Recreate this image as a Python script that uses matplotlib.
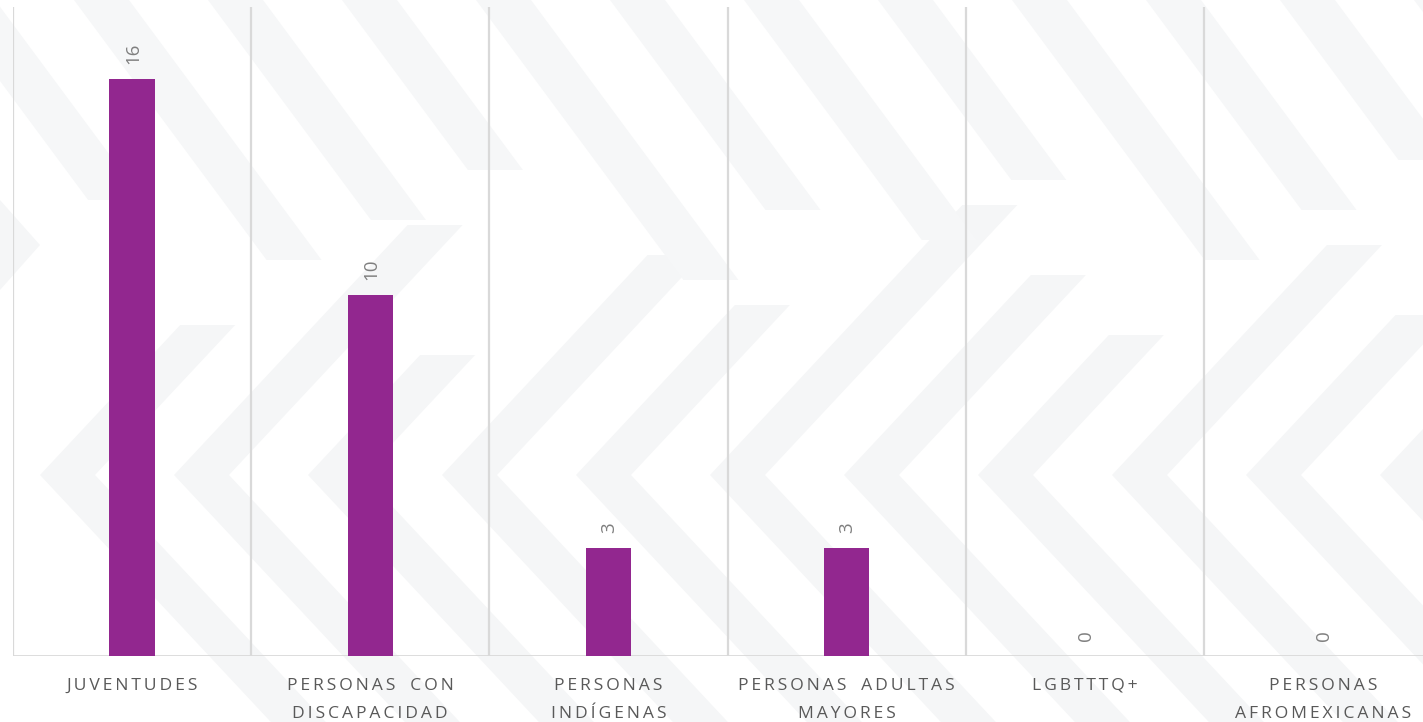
import matplotlib
matplotlib.use("Agg")
import matplotlib.pyplot as plt
from matplotlib.patches import Polygon
import numpy as np

# ---- data ----
categories = ["JUVENTUDES", "PERSONAS CON\nDISCAPACIDAD", "PERSONAS\nINDÍGENAS",
              "PERSONAS ADULTAS\nMAYORES", "LGBTTTQ+", "PERSONAS\nAFROMEXICANAS"]
values = [16, 10, 3, 3, 0, 0]

W, H = 1423, 722
plt.rcParams['font.family'] = ['Open Sans', 'DejaVu Sans']
fig = plt.figure(figsize=(W / 100, H / 100), dpi=100)
fig.patch.set_facecolor('white')

BG = '#f5f6f7'


def px(x, y):
    return (x / W, 1 - y / H)


def band(points, color=BG):
    fig.patches.append(Polygon([px(*p) for p in points], closed=True,
                               transform=fig.transFigure, facecolor=color,
                               edgecolor='none', zorder=0))


# ---- decorative background (chevrons and diagonal stripes) ----
s = 1.07   # dy/dx of arms
w = 55     # horizontal band width
vy = 475
ups = [150, 250, 120, 220, 170, 270, 200, 140, 230, 160, 250, 180]
for k, vx in enumerate(np.arange(40, 1500, 134)):
    u = ups[k % len(ups)]
    d = 300
    band([(vx + u / s, vy - u), (vx, vy), (vx + d / s, vy + d),
          (vx + d / s + w, vy + d), (vx + w, vy), (vx + u / s + w, vy - u)])
# small chevron at far left
band([(-40, 200), (0, 245), (-40, 290), (0, 290), (40, 245), (0, 200)])
# top stripes "\"
tops = [200, 260, 220, 170, 280, 210, 240, 180, 260, 210, 160, 230]
for k, x0 in enumerate(np.arange(-60, 1500, 134)):
    y1 = tops[k % len(tops)]
    band([(x0, 0), (x0 + w, 0), (x0 + w + y1 / 1.35, y1), (x0 + y1 / 1.35, y1)], '#f6f7f8')

# ---- axes ----
ax = fig.add_axes([13 / W, 66 / H, 1429.2 / W, 649 / H])
ax.set_zorder(1)
ax.set_facecolor('none')
x = np.arange(len(categories))
ax.bar(x, values, width=0.19, color='#92278F', zorder=3)
ax.set_xlim(-0.5, len(categories) - 0.5)
ax.set_ylim(0, 18)
for sp in ax.spines.values():
    sp.set_visible(False)
ax.set_xticks([])
ax.set_yticks([])
ax.vlines(np.arange(-0.5, len(categories), 1), 0, 18, color='#d9d9d9', lw=1.6, zorder=2)
ax.axhline(0, color='#d9d9d9', lw=2, zorder=2)

# value labels
for xi, v in zip(x, values):
    ax.annotate(str(v), (xi, v), xytext=(0.7, 11), textcoords='offset points',
                rotation=90, ha='center', va='bottom', fontsize=13.5,
                color='#7f7f7f', zorder=4)


def spaced(t):
    out = []
    for word in t.split(' '):
        out.append('\u2009'.join(word))
    return '\u2009  \u2009'.join(out)


tr = ax.get_xaxis_transform()
base = [-(690 - 656) / 649, -(718 - 656) / 649]
for xi, c in zip(x, categories):
    for li, line in enumerate(c.split('\n')):
        ax.text(xi, base[li], spaced(line), transform=tr, ha='center',
                va='baseline', fontsize=12.6, color='#595959')

fig.savefig('out.png', dpi=100)
